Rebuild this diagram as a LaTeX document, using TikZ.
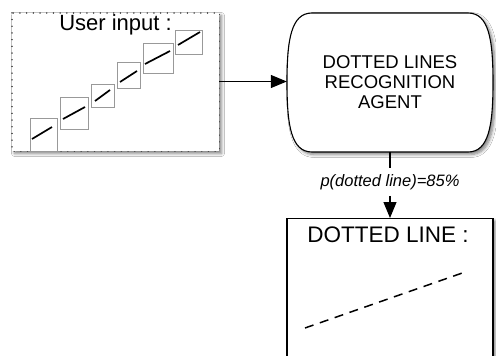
\documentclass[tikz,border=0pt]{standalone}
\usepackage{fontspec}
\setmainfont{Liberation Sans}
\usetikzlibrary{arrows.meta,shadows.blur,calc}

\tikzset{
  softshadow/.style={blur shadow={shadow xshift=2.5pt, shadow yshift=-2.5pt,
      shadow blur steps=6, shadow blur radius=3pt, shadow opacity=50}},
  panel/.style={draw=black, line width=1.1pt, fill=white, inner sep=0pt},
  dotframe/.style={draw=black!70, line width=1.4pt, line cap=round,
      dash pattern=on 0.1pt off 6.6pt},
  cellbox/.style={draw=black!40, line width=0.9pt},
  stroke/.style={draw=black, line width=1.7pt},
  flow/.style={draw=black, line width=1.2pt,
      -{Triangle[length=16pt, width=13pt]}},
}

\begin{document}
\begin{tikzpicture}[x=1pt, y=-1pt]
  \clip (0,0) rectangle (496,356);
  \fill[white] (0,0) rectangle (496,356);

  % input panel with dotted frame
  \node[fill=white, softshadow, inner sep=0pt,
        minimum width=207pt, minimum height=138pt] (user) at (115.5,82) {};
  \draw[dotframe] (user.north west) rectangle (user.south east);
  \node[font=\fontsize{22}{24}\selectfont] (usertitle) at (115.5,25) {User input :};

  % stroke segments, each in its own cell
  \foreach \xa/\ya/\xb/\yb/\pa/\qa/\pb/\qb in {
      30/118/57/151/32/139/52/127,
      60/97/88/129/63/119/85/107,
      91/84/114/107/95/101/110/90,
      117/62/140/88/120/82/137/71,
      143/43/173/73/145/64/170/51,
      175/30/202/54/178/45/200/32}{
    \draw[cellbox] (\xa,\ya) rectangle (\xb,\yb);
    \draw[stroke] (\pa,\qa) -- (\pb,\qb);
  }

  % recognition agent (terminator shape)
  \node[minimum width=206pt, minimum height=139pt, inner sep=0pt] (agent) at (390,82.5) {};
  \path[panel, softshadow]
    (312,13) -- (468,13)
    .. controls (489,13) and (493,40) .. (493,82.5)
    .. controls (493,125) and (489,152) .. (468,152)
    -- (312,152)
    .. controls (291,152) and (287,125) .. (287,82.5)
    .. controls (287,40) and (291,13) .. (312,13) -- cycle;
  \node[align=center, font=\fontsize{18.5}{20}\selectfont] (agenttext) at (390,82)
    {DOTTED LINES\\RECOGNITION\\AGENT};

  % result panel
  \node[panel, softshadow, anchor=north,
        minimum width=206pt, minimum height=160pt] (result) at (390,218) {};
  \node[font=\fontsize{22.5}{24}\selectfont] (resulttitle) at (388,235) {DOTTED LINE :};
  \draw[black, line width=1.5pt, dash pattern=on 9pt off 6.7pt] (305,328) -- (468,271);

  % connectors
  \draw[flow] (user.east |- 0,81.5) -- (agent.west |- 0,81.5);
  \node[font=\itshape\fontsize{16.5}{18}\selectfont, inner sep=6pt] (prob) at (390,182)
    {p(dotted line)=85\%};
  \draw[black, line width=1.2pt] (agent.south) -- (prob.north);
  \draw[flow] (prob.south) -- (result.north);
\end{tikzpicture}
\end{document}
